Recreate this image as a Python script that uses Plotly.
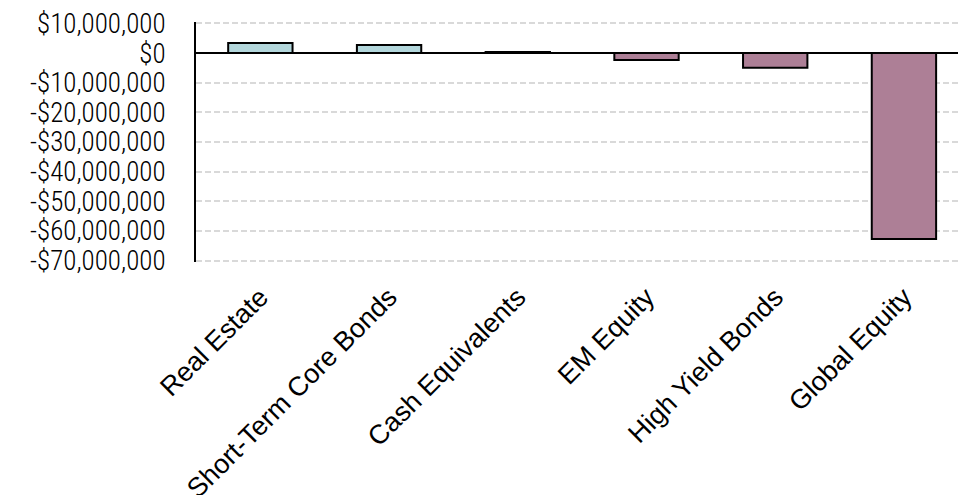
import plotly.graph_objects as go

# Net flows by asset class (USD)
categories = ["Real Estate", "Short-Term Core Bonds", "Cash Equivalents",
              "EM Equity", "High Yield Bonds", "Global Equity"]
net_flows = [3_400_000, 2_700_000, 400_000, -2_300_000, -4_900_000, -62_700_000]

y_ticks = [10_000_000, 0, -10_000_000, -20_000_000, -30_000_000,
           -40_000_000, -50_000_000, -60_000_000, -70_000_000]
y_tick_text = ["$10,000,000", "$0", "-$10,000,000", "-$20,000,000", "-$30,000,000",
               "-$40,000,000", "-$50,000,000", "-$60,000,000", "-$70,000,000"]

POS_COLOR = "#b3d7dc"
NEG_COLOR = "#ad7f96"
bar_colors = [POS_COLOR if v >= 0 else NEG_COLOR for v in net_flows]

fig = go.Figure(
    go.Bar(
        x=categories,
        y=net_flows,
        width=0.5,
        marker=dict(color=bar_colors, line=dict(color="black", width=2)),
    )
)

fig.update_layout(
    width=958,
    height=495,
    margin=dict(l=196, r=0, t=22, b=233),
    paper_bgcolor="white",
    plot_bgcolor="white",
    showlegend=False,
)

fig.update_xaxes(
    range=[-0.5, 5.42],
    tickangle=-45,
    tickfont=dict(family="Liberation Sans, Arial, sans-serif", size=27, color="black"),
    showgrid=False,
    showline=False,
    ticks="",
    ticklabelstandoff=13,
    automargin=False,
)

# small padding keeps the end gridlines (+$10M / -$70M) from being clipped
fig.update_yaxes(
    range=[-70_500_000, 10_500_000],
    tickvals=y_ticks,
    ticktext=y_tick_text,
    tickfont=dict(family="Roboto Condensed, Liberation Sans Narrow, Arial Narrow, sans-serif",
                  size=27, weight=350, color="black"),
    showgrid=True,
    gridcolor="#d9d9d9",
    gridwidth=1.5,
    griddash="6px,3px",
    zeroline=True,
    zerolinecolor="black",
    zerolinewidth=1.5,
    showline=True,
    linecolor="black",
    linewidth=2,
    ticks="",
    ticklabelstandoff=23,
    automargin=False,
)

fig.write_html("out.html")
